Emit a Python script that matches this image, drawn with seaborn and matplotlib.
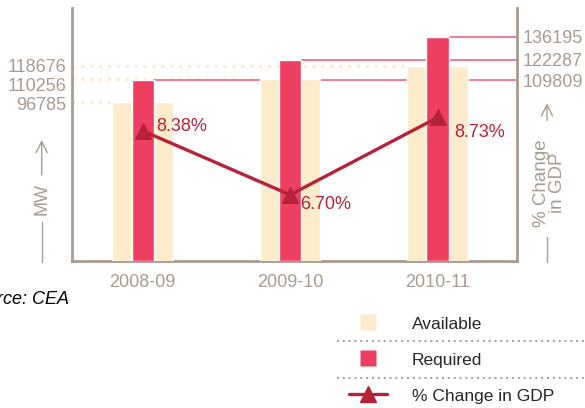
import numpy as np
import pandas as pd
import matplotlib
matplotlib.use("Agg")
import matplotlib.pyplot as plt
from matplotlib.lines import Line2D
from matplotlib.transforms import ScaledTranslation
import seaborn as sns

# data
years = ["2008-09", "2009-10", "2010-11"]
available = [96785, 110256, 118676]
required = [109809, 122287, 136195]
gdp_change = [8.38, 6.70, 8.73]
gdp_labels = ["8.38%", "6.70%", "8.73%"]

sns.set_style("white")
plt.rcParams["font.family"] = ["Liberation Sans", "DejaVu Sans"]

grey = "#a89b90"
yellow = "#fdeccb"
red = "#ee3f62"
dark_red = "#b5223a"
pink_line = "#f27a93"
dot_line = "#fde6bf"

df = pd.DataFrame({"year": years, "available": available,
                   "required": required, "gdp": gdp_change})

fig = plt.figure(figsize=(5.85, 4.08), dpi=100)
ax = fig.add_axes([0.123, 0.360, 0.761, 0.620])

wide = 0.41
narrow = 0.15
sns.barplot(data=df, x="year", y="available", color=yellow, width=wide,
            saturation=1, ax=ax, zorder=3)
sns.barplot(data=df, x="year", y="required", color=red, width=narrow,
            saturation=1, ax=ax, zorder=4)

xmin, xmax = -0.48, 2.54
ax.set_xlim(xmin, xmax)
ax.set_ylim(0, 153500)

# reference lines behind bars
for i, v in enumerate(available):
    ax.hlines(v, xmin, i - wide / 2, colors=dot_line, linestyles=(0, (1, 2.2)),
              linewidth=2, zorder=1)
for i, v in enumerate(required):
    ax.hlines(v, i + narrow / 2, xmax, colors=pink_line, linewidth=1.4, zorder=1)

ax.set_yticks(available)
ax.set_yticklabels([str(v) for v in available])
ax.tick_params(axis="both", length=0, colors=grey, labelsize=13, pad=4)
ax.tick_params(axis="x", pad=9)
ax.set_xlabel("")
ax.set_ylabel("")
# spread the crowded left labels a little
for lab, dy in zip(ax.get_yticklabels(), [-1, -4, 0]):
    lab.set_transform(lab.get_transform() + ScaledTranslation(0, dy / 72, fig.dpi_scale_trans))

sec = ax.secondary_yaxis("right")
sec.set_yticks(required)
sec.set_yticklabels([str(v) for v in required])
sec.tick_params(length=0, colors=grey, labelsize=13, pad=4)
sec.spines["right"].set_visible(False)

for s in ["left", "bottom", "right"]:
    ax.spines[s].set_color(grey)
    ax.spines[s].set_linewidth(2)
ax.spines["top"].set_visible(False)

# GDP line on twin axis
ax2 = ax.twinx()
sns.lineplot(x=np.arange(len(years)), y=df["gdp"], ax=ax2, color=dark_red,
             linewidth=2.4, marker="^", markersize=11, markeredgecolor=dark_red,
             zorder=5)
ax2.set_ylim(4.96, 11.6)
ax2.set_yticks([])
ax2.set_ylabel("")
for s in ax2.spines.values():
    s.set_visible(False)

offsets = [(10, 3), (7, -7), (12, -11)]
for i, (v, lab) in enumerate(zip(gdp_change, gdp_labels)):
    ax2.annotate(lab, (i, v), xytext=offsets[i], textcoords="offset points",
                 color=dark_red, fontsize=13, va="center", ha="left", zorder=6)

# axis labels with dash and arrow
ax.text(-0.068, 0.245, "MW", rotation=90, transform=ax.transAxes,
        color=grey, fontsize=13, ha="center", va="center")
ax.annotate("", xy=(-0.068, 0.49), xytext=(-0.068, 0.33),
            xycoords="axes fraction", textcoords="axes fraction",
            arrowprops=dict(arrowstyle="->", color=grey, lw=1, mutation_scale=20))
ax.add_line(Line2D([-0.068, -0.068], [-0.005, 0.155], transform=ax.transAxes,
                   color=grey, lw=1, clip_on=False))

ax.text(1.072, 0.31, "% Change\nin GDP", rotation=90, transform=ax.transAxes,
        color=grey, fontsize=13.5, ha="center", va="center", linespacing=0.95)
ax.annotate("", xy=(1.067, 0.635), xytext=(1.067, 0.545),
            xycoords="axes fraction", textcoords="axes fraction",
            arrowprops=dict(arrowstyle="->", color=grey, lw=1, mutation_scale=20))
ax.add_line(Line2D([1.067, 1.067], [-0.005, 0.095], transform=ax.transAxes,
                   color=grey, lw=1, clip_on=False))

# source
fig.text(-0.06, 0.265, "Source: CEA", style="italic", fontsize=13,
         color="black", va="center", ha="left")

# legend
handles = [
    Line2D([0], [0], linestyle="none", marker="s", markersize=11,
           markerfacecolor=yellow, markeredgecolor="none"),
    Line2D([0], [0], linestyle="none", marker="s", markersize=11,
           markerfacecolor=red, markeredgecolor="none"),
    Line2D([0], [0], color=dark_red, lw=2.4, marker="^", markersize=11),
]
labels = ["Available", "Required", "% Change in GDP"]
fig.legend(handles, labels, loc="upper left", bbox_to_anchor=(0.585, 0.245),
           frameon=False, fontsize=12.5, labelspacing=1.12, handlelength=2.2,
           handleheight=1.0, handletextpad=1.4, borderaxespad=0)

for y in [1 - 341 / 408, 1 - 378 / 408]:
    fig.add_artist(Line2D([0.576, 1.0], [y, y], transform=fig.transFigure,
                          color=grey, lw=1.4, linestyle=(0, (1, 2))))

fig.savefig("out.png", dpi=100)
